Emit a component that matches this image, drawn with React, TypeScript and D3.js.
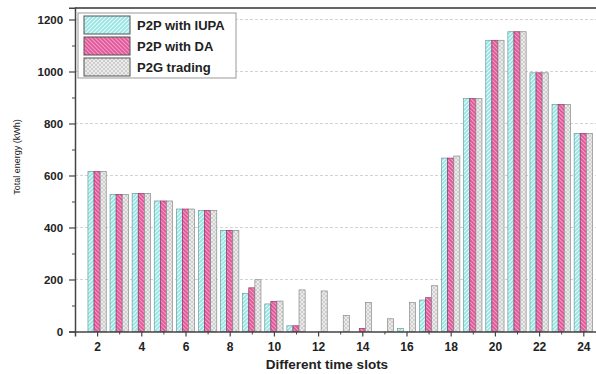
import { useEffect, useRef } from "react";
import * as d3 from "d3";

const slots = [2, 3, 4, 5, 6, 7, 8, 9, 10, 11, 12, 13, 14, 15, 16, 17, 18, 19, 20, 21, 22, 23, 24];
const iupa = [615, 527, 531, 502, 471, 466, 389, 147, 106, 22, 0, 0, 0, 0, 11, 121, 667, 896, 1120, 1153, 995, 873, 762];
const da = [615, 527, 531, 502, 471, 466, 389, 168, 116, 22, 0, 0, 12, 0, 0, 130, 667, 896, 1120, 1153, 995, 873, 762];
const p2g = [615, 527, 531, 502, 471, 466, 389, 199, 117, 160, 156, 61, 112, 49, 111, 176, 675, 896, 1120, 1153, 995, 873, 762];
const seriesNames = ["P2P with IUPA", "P2P with DA", "P2G trading"];
const xTicks = [2, 4, 6, 8, 10, 12, 14, 16, 18, 20, 22, 24];
const yTicks = [0, 200, 400, 600, 800, 1000, 1200];

const W = 596;
const H = 374;

export default function App() {
  const ref = useRef<SVGSVGElement>(null);

  useEffect(() => {
    if (!ref.current) return;
    const svg = d3.select(ref.current);
    svg.selectAll("*").remove();

    const left = 75;
    const right = 597;
    const top = 8;
    const bottom = 331.5;
    const font = "Arial, 'Liberation Sans', sans-serif";

    const x = d3.scaleLinear().domain([1, 24.62]).range([left, right]);
    const y = d3.scaleLinear().domain([0, 1245]).range([bottom, bottom - 1245 * 0.26]);

    // hatch patterns
    const defs = svg.append("defs");
    const mk = (id: string, bg: string, stroke: string, dirs: string[]) => {
      const p = defs
        .append("pattern")
        .attr("id", id)
        .attr("patternUnits", "userSpaceOnUse")
        .attr("width", 4)
        .attr("height", 4);
      p.append("rect").attr("width", 4).attr("height", 4).attr("fill", bg);
      dirs.forEach((d) =>
        p.append("path").attr("d", d).attr("stroke", stroke).attr("stroke-width", 1.1)
      );
    };
    mk("hIupa", "#95e4e4", "#eafbfb", ["M-1,5 L5,-1", "M-1,1 L1,-1", "M3,5 L5,3"]);
    mk("hDa", "#e0569a", "#f39cc4", ["M-1,-1 L5,5", "M-1,3 L1,5", "M3,-1 L5,1"]);
    mk("hP2g", "#c4c4c4", "#ededed", ["M-1,5 L5,-1", "M-1,-1 L5,5"]);
    const fills = ["url(#hIupa)", "url(#hDa)", "url(#hP2g)"];
    const strokes = ["#6f9a9a", "#8a3a60", "#8a8a8a"];

    // grid
    svg
      .append("g")
      .selectAll("line")
      .data(yTicks.filter((t) => t > 0))
      .join("line")
      .attr("x1", left)
      .attr("x2", right)
      .attr("y1", (d) => y(d))
      .attr("y2", (d) => y(d))
      .attr("stroke", "#c8c8c8")
      .attr("stroke-width", 0.8)
      .attr("stroke-dasharray", "3,2");

    // bars
    const bw = 6.1;
    const data = [iupa, da, p2g];
    data.forEach((vals, si) => {
      svg
        .append("g")
        .selectAll("rect")
        .data(slots.map((s, i) => ({ s, v: vals[i] })).filter((d) => d.v > 0))
        .join("rect")
        .attr("x", (d) => x(d.s) - 1.5 * bw + si * bw)
        .attr("y", (d) => y(d.v))
        .attr("width", bw)
        .attr("height", (d) => bottom - y(d.v))
        .attr("fill", fills[si])
        .attr("stroke", strokes[si])
        .attr("stroke-width", 0.7);
    });

    // frame
    svg
      .append("line")
      .attr("x1", left)
      .attr("x2", right)
      .attr("y1", top)
      .attr("y2", top)
      .attr("stroke", "#666")
      .attr("stroke-width", 2);

    // axes
    const xAxis = svg
      .append("g")
      .attr("transform", `translate(0,${bottom})`)
      .call(
        d3
          .axisBottom(x)
          .tickValues(xTicks)
          .tickSize(5)
          .tickFormat((d) => String(d))
      );
    xAxis.select(".domain").attr("stroke", "#444").attr("stroke-width", 1.5);
    xAxis.selectAll(".tick line").attr("stroke", "#444").attr("stroke-width", 1.2);
    xAxis
      .selectAll("text")
      .attr("font-family", font)
      .attr("font-weight", "bold")
      .attr("font-size", 12)
      .attr("fill", "#222")
      .attr("dy", "0.95em");
    svg
      .append("g")
      .attr("transform", `translate(0,${bottom})`)
      .call(d3.axisBottom(x).tickValues(d3.range(3, 25, 2)).tickSize(3).tickFormat(() => ""))
      .call((g) => g.select(".domain").remove())
      .selectAll(".tick line")
      .attr("stroke", "#444");

    const yAxis = svg
      .append("g")
      .attr("transform", `translate(${left},0)`)
      .call(d3.axisLeft(y).tickValues(yTicks).tickSize(6).tickFormat((d) => String(d)));
    yAxis.select(".domain").attr("stroke", "#444").attr("stroke-width", 1.5);
    yAxis.selectAll(".tick line").attr("stroke", "#444").attr("stroke-width", 1.2);
    yAxis
      .selectAll("text")
      .attr("font-family", font)
      .attr("font-weight", "bold")
      .attr("font-size", 11.5)
      .attr("fill", "#222")
      .attr("dx", "-0.25em");
    svg
      .append("g")
      .attr("transform", `translate(${left},0)`)
      .call(d3.axisLeft(y).tickValues(d3.range(100, 1250, 200)).tickSize(3).tickFormat(() => ""))
      .call((g) => g.select(".domain").remove())
      .selectAll(".tick line")
      .attr("stroke", "#444");

    // titles
    svg
      .append("text")
      .attr("x", 327)
      .attr("y", 369)
      .attr("text-anchor", "middle")
      .attr("font-family", font)
      .attr("font-weight", "bold")
      .attr("font-size", 13.5)
      .attr("fill", "#222")
      .text("Different time slots");
    svg
      .append("text")
      .attr("transform", "translate(20,157) rotate(-90)")
      .attr("text-anchor", "middle")
      .attr("font-family", font)
      .attr("font-size", 9)
      .attr("fill", "#222")
      .text("Total energy (kWh)");

    // legend
    const lg = svg.append("g").attr("transform", "translate(78,13)");
    lg.append("rect")
      .attr("width", 158)
      .attr("height", 65)
      .attr("fill", "white")
      .attr("stroke", "#999")
      .attr("stroke-width", 1);
    seriesNames.forEach((name, i) => {
      lg.append("rect")
        .attr("x", 6)
        .attr("y", 3 + i * 21)
        .attr("width", 46)
        .attr("height", 18)
        .attr("fill", fills[i])
        .attr("stroke", "#555")
        .attr("stroke-width", 1);
      lg.append("text")
        .attr("x", 59)
        .attr("y", 12 + i * 21)
        .attr("dy", "0.35em")
        .attr("font-family", font)
        .attr("font-weight", "bold")
        .attr("font-size", 13)
        .attr("fill", "#222")
        .text(name);
    });
  }, []);

  return (
    <svg
      ref={ref}
      width={W}
      height={H}
      style={{ position: "absolute", left: 0, top: 0, background: "white" }}
    />
  );
}
